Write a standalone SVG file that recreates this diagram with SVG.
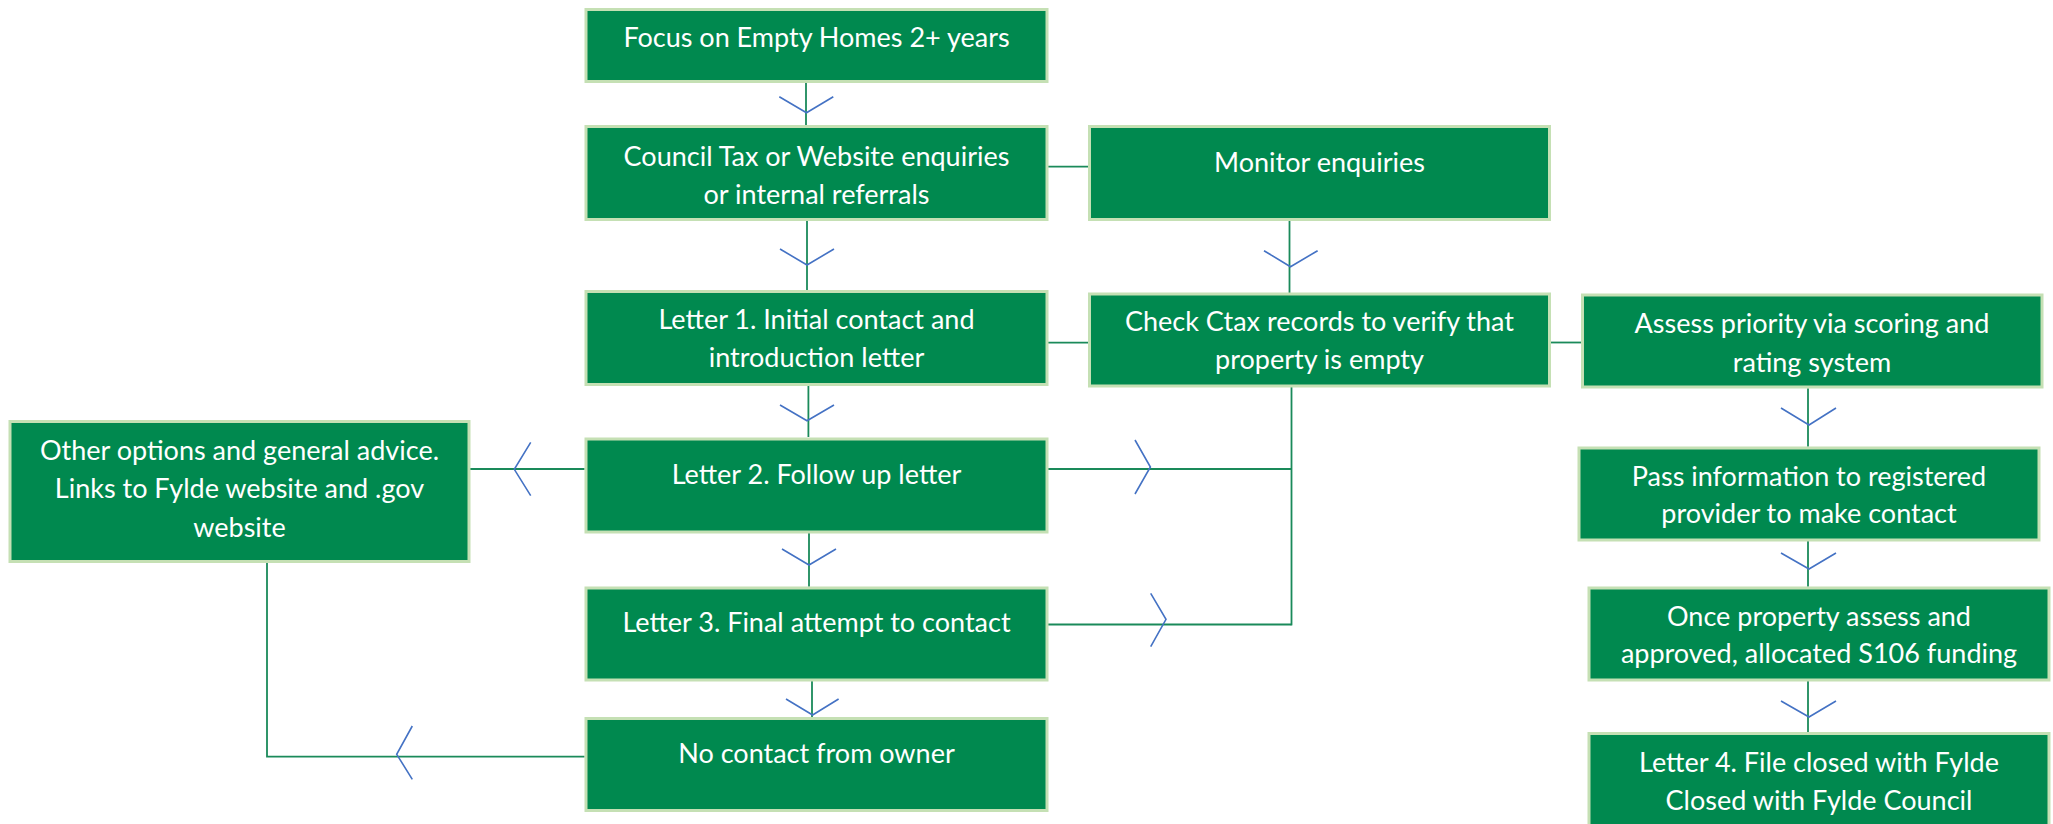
<svg xmlns="http://www.w3.org/2000/svg" width="2053" height="824" viewBox="0 0 2053 824">
<style>
.box{fill:#00894f;stroke:#c5e0b4;stroke-width:3}
.t{font-family:Lato,"Open Sans","Liberation Sans",sans-serif;font-size:27px;fill:#ffffff;text-anchor:middle}
.c{fill:none;stroke:#1a8a5a;stroke-width:1.8}
.a{fill:none;stroke:#4472c4;stroke-width:1.6}
</style>
<rect width="2053" height="824" fill="#ffffff"/>
<g id="connectors">
<line class="c" x1="806" y1="83" x2="806" y2="125"/>
<polyline class="a" points="779.3,96.7 806.5,112.7 833.3,96.7"/>
<line class="c" x1="807" y1="221" x2="807" y2="290"/>
<polyline class="a" points="780,249 807,265 834,249"/>
<line class="c" x1="1047.7" y1="166.7" x2="1089" y2="166.7"/>
<line class="c" x1="1289.5" y1="221" x2="1289.5" y2="293"/>
<polyline class="a" points="1264,250.7 1290.5,266.7 1317.6,250.7"/>
<line class="c" x1="1047.7" y1="342.7" x2="1089" y2="342.7"/>
<line class="c" x1="1551" y1="342.5" x2="1581" y2="342.5"/>
<line class="c" x1="808.4" y1="385" x2="808.4" y2="437"/>
<polyline class="a" points="780,405 807,420.7 834,405"/>
<line class="c" x1="584.6" y1="469" x2="470" y2="469"/>
<polyline class="a" points="530.7,442.3 514.3,469.3 530.7,495.7"/>
<line class="c" x1="1047.7" y1="469" x2="1291.5" y2="469"/>
<polyline class="a" points="1135,440 1150.4,467 1135,494"/>
<line class="c" x1="1047.7" y1="624.5" x2="1291.5" y2="624.5"/>
<polyline class="a" points="1150.7,593.3 1166,619.3 1150.7,646.7"/>
<line class="c" x1="1291.5" y1="386.7" x2="1291.5" y2="625.4"/>
<line class="c" x1="809" y1="532.7" x2="809" y2="586.7"/>
<polyline class="a" points="782,549 809,565 836,549"/>
<line class="c" x1="812" y1="680.7" x2="812" y2="717"/>
<polyline class="a" points="786,699 812.6,715 838.6,699"/>
<polyline class="c" points="584.6,756.7 267,756.7 267,562"/>
<polyline class="a" points="412.3,726 396.7,754.3 412.3,779.3"/>
<line class="c" x1="1808" y1="388.3" x2="1808" y2="446.7"/>
<polyline class="a" points="1781,408 1809,425 1836,408"/>
<line class="c" x1="1808" y1="541" x2="1808" y2="586.7"/>
<polyline class="a" points="1781,553 1809,569 1836,553"/>
<line class="c" x1="1808" y1="681" x2="1808" y2="732.3"/>
<polyline class="a" points="1781,701 1809,717 1836,701"/>
</g>
<g id="focus"><rect class="box" x="586" y="9.5" width="461" height="72"/><text class="t" x="816.5" y="46.5">Focus on Empty Homes 2+ years</text></g>
<g id="council"><rect class="box" x="586" y="126.5" width="461" height="93"/><text class="t" x="816.5" y="166">Council Tax or Website enquiries</text><text class="t" x="816.5" y="204">or internal referrals</text></g>
<g id="monitor"><rect class="box" x="1089.5" y="126.5" width="460" height="93"/><text class="t" x="1319.5" y="172">Monitor enquiries</text></g>
<g id="letter1"><rect class="box" x="586" y="291.5" width="461" height="93"/><text class="t" x="816.5" y="329">Letter 1. Initial contact and</text><text class="t" x="816.5" y="367">introduction letter</text></g>
<g id="check"><rect class="box" x="1089.5" y="294" width="460" height="92"/><text class="t" x="1319.5" y="331">Check Ctax records to verify that</text><text class="t" x="1319.5" y="369">property is empty</text></g>
<g id="assess"><rect class="box" x="1582.5" y="295" width="459.5" height="92"/><text class="t" x="1812" y="333">Assess priority via scoring and</text><text class="t" x="1812" y="372">rating system</text></g>
<g id="other"><rect class="box" x="10" y="421.5" width="459" height="140"/><text class="t" x="239.5" y="460">Other options and general advice.</text><text class="t" x="239.5" y="498">Links to Fylde website and .gov</text><text class="t" x="239.5" y="536.5">website</text></g>
<g id="letter2"><rect class="box" x="586" y="439" width="461" height="93"/><text class="t" x="816.5" y="483.5">Letter 2. Follow up letter</text></g>
<g id="letter3"><rect class="box" x="586" y="588" width="461" height="92"/><text class="t" x="816.5" y="632">Letter 3. Final attempt to contact</text></g>
<g id="nocontact"><rect class="box" x="586" y="718.5" width="461" height="92"/><text class="t" x="816.5" y="763">No contact from owner</text></g>
<g id="pass"><rect class="box" x="1579" y="448" width="460" height="92"/><text class="t" x="1809" y="486">Pass information to registered</text><text class="t" x="1809" y="523">provider to make contact</text></g>
<g id="once"><rect class="box" x="1589" y="588" width="460" height="92"/><text class="t" x="1819" y="626">Once property assess and</text><text class="t" x="1819" y="663">approved, allocated S106 funding</text></g>
<g id="letter4"><rect class="box" x="1589" y="733.5" width="460" height="100"/><text class="t" x="1819" y="772">Letter 4. File closed with Fylde</text><text class="t" x="1819" y="810">Closed with Fylde Council</text></g>
</svg>
